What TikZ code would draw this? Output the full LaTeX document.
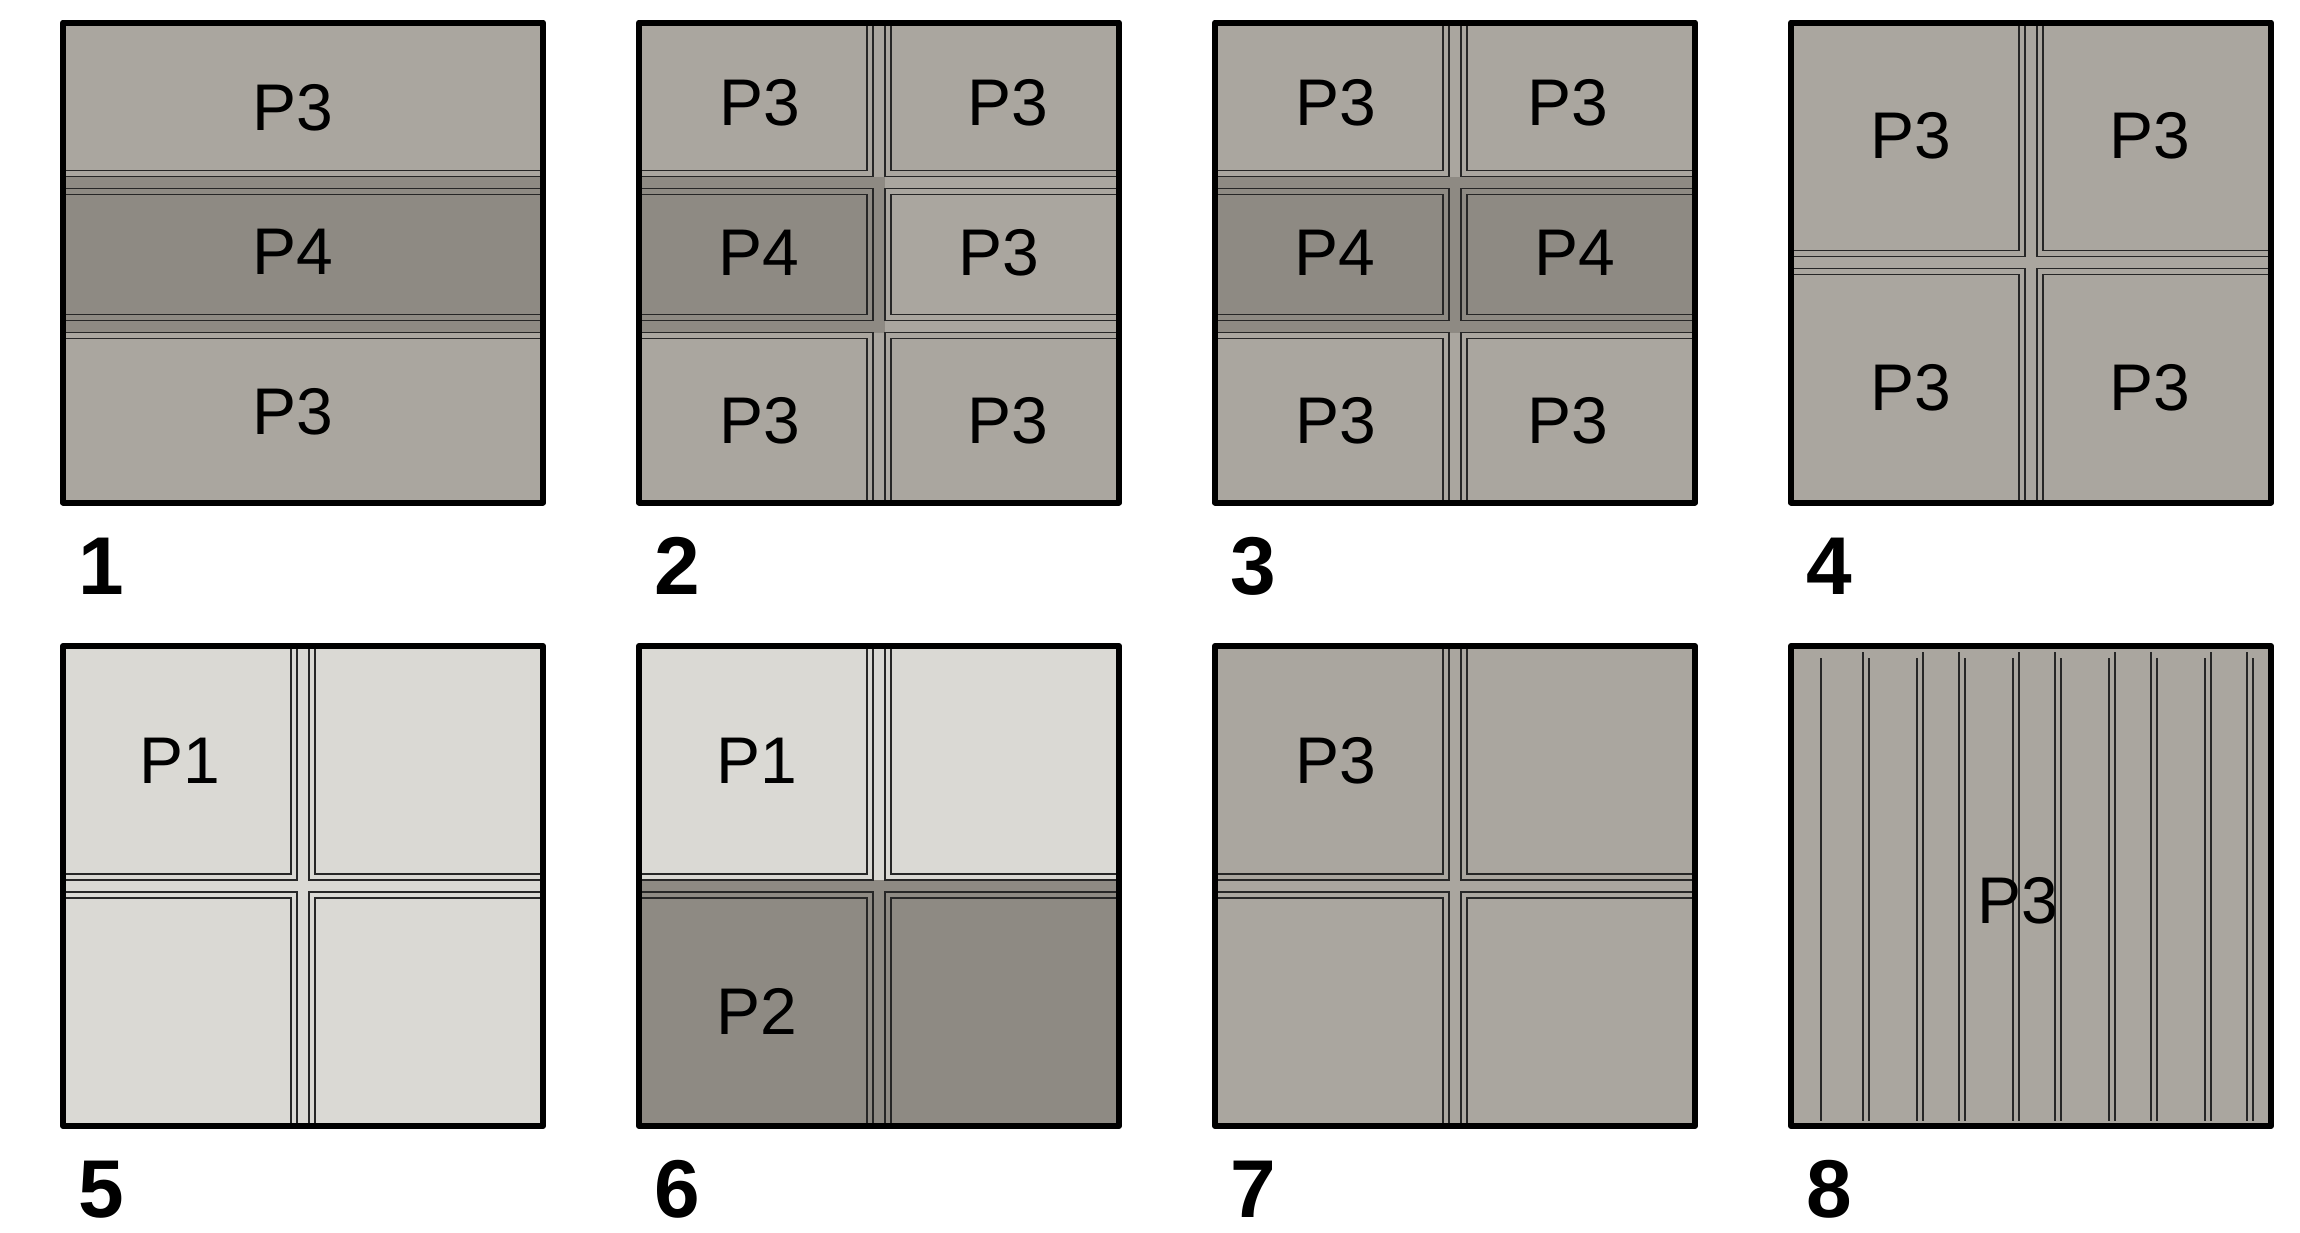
\documentclass[tikz,border=0pt]{standalone}
\usepackage{fontspec}
\setmainfont{Liberation Sans}
\usepackage{tikz}
\usetikzlibrary{positioning}
\definecolor{pone}{RGB}{218,217,212}
\definecolor{pthree}{RGB}{170,166,159}
\definecolor{pfour}{RGB}{142,138,131}
\tikzset{panelframe/.style={line width=3pt, line join=round},
joint/.style={line width=0.65pt, draw=black!85},
plabel/.style={font=\fontsize{33}{33}\selectfont, inner sep=0pt},
numlabel/.style={font=\fontsize{41}{41}\selectfont\bfseries, inner sep=0pt, anchor=base west}}
% one tile: outline and inner outline
\newcommand{\tilebox}[5]{%
\filldraw[joint, fill=#5] (#1,#2) rectangle (#3,#4);
\draw[joint] (#1+6,#2+6) rectangle (#3-6,#4-6);}

\begin{document}
\begin{tikzpicture}[x=0.5pt, y=-0.5pt]
\useasboundingbox (0,0) rectangle (2300,1232);

% 1
\begin{scope}[shift={(63,22.5)}]
  \begin{scope}
    \clip (0,0) rectangle (480,480);
    \fill[pthree] (0,0) rectangle (480,480);
    \fill[pfour] (0,154) rectangle (480,310);
    \tilebox{-10}{-10}{490}{154}{pthree}
    \tilebox{-10}{166}{490}{298}{pfour}
    \tilebox{-10}{310}{490}{490}{pthree}
  \end{scope}
  \draw[panelframe] (0,0) rectangle (480,480);
  \node[plabel] (a1) at (229.5,85.5) {P3};
  \node[plabel] (a2) at (229.5,229.5) {P4};
  \node[plabel] (a3) at (229.5,389.5) {P3};
  \node[numlabel] (n1) at (15,571.5) {1};
\end{scope}

% 2
\begin{scope}[shift={(639,22.5)}]
  \begin{scope}
    \clip (0,0) rectangle (480,480);
    \fill[pthree] (0,0) rectangle (480,480);
    \fill[pfour] (0,154) rectangle (246,310);
    \tilebox{-10}{-10}{234}{154}{pthree}
    \tilebox{246}{-10}{490}{154}{pthree}
    \tilebox{-10}{166}{234}{298}{pfour}
    \tilebox{246}{166}{490}{298}{pthree}
    \tilebox{-10}{310}{234}{490}{pthree}
    \tilebox{246}{310}{490}{490}{pthree}
  \end{scope}
  \draw[panelframe] (0,0) rectangle (480,480);
  \node[plabel] (b1) at (120.5,80.5) {P3};
  \node[plabel] (b2) at (368.5,80.5) {P3};
  \node[plabel] (b3) at (120,230.5) {P4};
  \node[plabel] (b4) at (360,230.5) {P3};
  \node[plabel] (b5) at (120.5,398.5) {P3};
  \node[plabel] (b6) at (368.5,398.5) {P3};
  \node[numlabel] (n2) at (15,571.5) {2};
\end{scope}

% 3
\begin{scope}[shift={(1215,22.5)}]
  \begin{scope}
    \clip (0,0) rectangle (480,480);
    \fill[pthree] (0,0) rectangle (480,480);
    \fill[pfour] (0,154) rectangle (480,310);
    \tilebox{-10}{-10}{234}{154}{pthree}
    \tilebox{246}{-10}{490}{154}{pthree}
    \tilebox{-10}{166}{234}{298}{pfour}
    \tilebox{246}{166}{490}{298}{pfour}
    \tilebox{-10}{310}{234}{490}{pthree}
    \tilebox{246}{310}{490}{490}{pthree}
  \end{scope}
  \draw[panelframe] (0,0) rectangle (480,480);
  \node[plabel] (c1) at (121,80.5) {P3};
  \node[plabel] (c2) at (353,80.5) {P3};
  \node[plabel] (c3) at (120,230.5) {P4};
  \node[plabel] (c4) at (360,230.5) {P4};
  \node[plabel] (c5) at (121,398.5) {P3};
  \node[plabel] (c6) at (353,398.5) {P3};
  \node[numlabel] (n3) at (15,571.5) {3};
\end{scope}

% 4
\begin{scope}[shift={(1791,22.5)}]
  \begin{scope}
    \clip (0,0) rectangle (480,480);
    \fill[pthree] (0,0) rectangle (480,480);
    \tilebox{-10}{-10}{234}{234}{pthree}
    \tilebox{246}{-10}{490}{234}{pthree}
    \tilebox{-10}{246}{234}{490}{pthree}
    \tilebox{246}{246}{490}{490}{pthree}
  \end{scope}
  \draw[panelframe] (0,0) rectangle (480,480);
  \node[plabel] (d1) at (120,113.5) {P3};
  \node[plabel] (d2) at (359,113.5) {P3};
  \node[plabel] (d3) at (120,365.5) {P3};
  \node[plabel] (d4) at (359,365.5) {P3};
  \node[numlabel] (n4) at (15,571.5) {4};
\end{scope}

% 5
\begin{scope}[shift={(63,646)}]
  \begin{scope}
    \clip (0,0) rectangle (480,480);
    \fill[pone] (0,0) rectangle (480,480);
    \tilebox{-10}{-10}{234}{234}{pone}
    \tilebox{246}{-10}{490}{234}{pone}
    \tilebox{-10}{246}{234}{490}{pone}
    \tilebox{246}{246}{490}{490}{pone}
  \end{scope}
  \draw[panelframe] (0,0) rectangle (480,480);
  \node[plabel] (e1) at (117,114.5) {P1};
  \node[numlabel] (n5) at (15,571.5) {5};
\end{scope}

% 6
\begin{scope}[shift={(639,646)}]
  \begin{scope}
    \clip (0,0) rectangle (480,480);
    \fill[pone] (0,0) rectangle (480,480);
    \fill[pfour] (0,234) rectangle (480,480);
    \tilebox{-10}{-10}{234}{234}{pone}
    \tilebox{246}{-10}{490}{234}{pone}
    \tilebox{-10}{246}{234}{490}{pfour}
    \tilebox{246}{246}{490}{490}{pfour}
  \end{scope}
  \draw[panelframe] (0,0) rectangle (480,480);
  \node[plabel] (f1) at (118,115) {P1};
  \node[plabel] (f2) at (118,365) {P2};
  \node[numlabel] (n6) at (15,571.5) {6};
\end{scope}

% 7
\begin{scope}[shift={(1215,646)}]
  \begin{scope}
    \clip (0,0) rectangle (480,480);
    \fill[pthree] (0,0) rectangle (480,480);
    \tilebox{-10}{-10}{234}{234}{pthree}
    \tilebox{246}{-10}{490}{234}{pthree}
    \tilebox{-10}{246}{234}{490}{pthree}
    \tilebox{246}{246}{490}{490}{pthree}
  \end{scope}
  \draw[panelframe] (0,0) rectangle (480,480);
  \node[plabel] (g1) at (121,115) {P3};
  \node[numlabel] (n7) at (15,571.5) {7};
\end{scope}

% 8
\begin{scope}[shift={(1791,646)}]
  \fill[pthree] (0,0) rectangle (480,480);
  \foreach \x in {72,132,168,228,264,324,360,420,456}
    \draw[joint] (\x,6) -- (\x,475);
  \foreach \x in {30,78,126,174,222,270,318,366,414,462}
    \draw[joint] (\x,12) -- (\x,475);
  \draw[panelframe] (0,0) rectangle (480,480);
  \node[plabel] (h1) at (226.5,255) {P3};
  \node[numlabel] (n8) at (15,571.5) {8};
\end{scope}

\end{tikzpicture}
\end{document}
